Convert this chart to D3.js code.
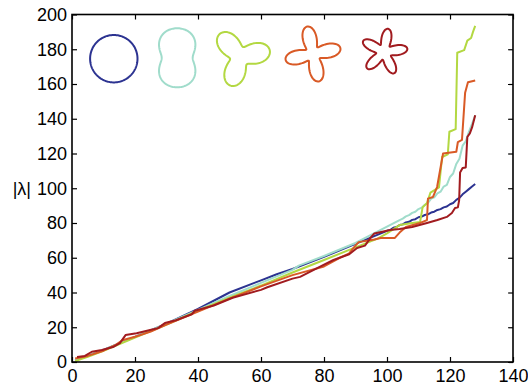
<!DOCTYPE html>
<html>
<head>
<meta charset="utf-8">
<script src="https://cdn.jsdelivr.net/npm/d3@7"></script>
<style>
  html, body { margin: 0; padding: 0; background: #fff; }
  svg text { font-family: "Liberation Sans", Arial, sans-serif; }
</style>
</head>
<body>
<svg id="chart" width="528" height="389"></svg>
<script>
// ---------- data ----------
const xTicks = [0, 20, 40, 60, 80, 100, 120, 140];
const yTicks = [0, 20, 40, 60, 80, 100, 120, 140, 160, 180, 200];
const yLabel = "|λ|";

const seriesNames = ["circle", "peanut", "trefoil", "clover", "star"];

const circleX = [1, 5, 10, 20, 30, 40, 50, 60, 65, 70, 80, 90, 100, 101, 102, 103, 104, 105, 106, 107, 108, 109, 110, 111, 112, 113, 114, 115, 116, 117, 118, 119, 120, 121, 122, 123, 124, 125, 126, 127, 128];
const circleY = [1, 3.5, 7, 14.5, 22, 30.5, 40, 47, 50.5, 53.5, 60.5, 68, 75.5, 76, 77.3, 77.7, 78.8, 79.2, 80.3, 80.7, 81.8, 82.2, 83.3, 83.7, 84.6, 85, 86, 86.5, 87.5, 88, 89, 89.5, 90.8, 91.5, 93.3, 94.5, 96.5, 98, 99.5, 101, 102.4];

const peanutX = [1, 5, 10, 20, 30, 40, 50, 60, 70, 72, 80, 90, 98, 104, 105, 106, 107, 108, 109, 110, 111, 112, 113, 114, 115, 116, 117, 118, 119, 120, 121, 122, 123, 124, 125, 126, 127, 128];
const peanutY = [1, 3.5, 7, 14.5, 22, 30, 38, 45.5, 53, 55.5, 61, 68.5, 76, 81.7, 82.5, 83.8, 84.5, 85.8, 86.5, 88, 88.8, 90.5, 91.5, 94, 94.8, 97, 98, 101, 102, 106.5, 108.5, 114, 117, 124.5, 127, 132.5, 137, 142];

const trefoilX = [1, 5, 10, 20, 30, 40, 50, 60, 70, 80, 90, 97, 100, 104, 108, 110.5, 111.3, 112.7, 113.8, 116.5, 117.5, 119.3, 119.8, 121.8, 122.3, 124.5, 125.5, 126.7, 127.3, 128];
const trefoilY = [0.5, 3, 6.5, 14, 21.5, 29.5, 37, 44, 51.5, 58.7, 66, 71, 74, 78.8, 80, 80.6, 89, 91.5, 97.5, 100.5, 118, 119.5, 132.5, 134, 178, 179.5, 185, 186.5, 190, 193.5];

const cloverX = [1, 5, 10, 14, 16, 20, 25, 30, 40, 50, 60, 70, 80, 85, 88, 89.5, 91, 96, 98, 102.5, 104, 106, 110.5, 112.7, 113, 114.6, 115.9, 117.8, 122, 122.5, 123.8, 124.8, 125.7, 128];
const cloverY = [2, 3.5, 6.5, 10, 12.5, 14.5, 17.5, 21.5, 29, 36.5, 43.5, 50, 55, 60, 62.5, 66, 69, 70.5, 71.4, 71.4, 74.5, 77.7, 80, 81.7, 94, 95, 100.7, 120, 121, 126.6, 127.8, 155, 161, 162];

const starX = [1.6, 4.1, 6.3, 9.5, 13, 15.2, 17, 20.5, 24.8, 27.3, 29.5, 33, 38, 39, 45, 51, 60, 62, 70, 72.4, 79.7, 83, 88, 90.5, 93, 95, 96, 101, 104, 108, 112.7, 116, 119, 120.6, 121.6, 122.5, 122.9, 123.2, 124, 125, 125.5, 126.3, 127, 128];
const starY = [2.9, 3.5, 5.9, 6.9, 8.6, 10.9, 15.5, 16.6, 18.4, 19.5, 22.4, 24, 27.5, 29.5, 32.5, 37, 41.5, 43, 48, 49, 55.8, 58.7, 62, 65.6, 67, 72, 74, 76, 76.5, 77.7, 80, 81.7, 83.5, 85.8, 88.6, 89, 93, 109, 111.6, 112, 129.5, 131.6, 135, 142];

// ---------- layout / style ----------
const W = 528, H = 389;
const plot = { left: 72, right: 513, top: 14.5, bottom: 362 };
const colors = ["#2c3391", "#a0dccb", "#b3d842", "#d95a26", "#a11b1f"];
const fontSize = 18;

// inset shape layout (polar outlines r = R(1 + a cos(k(phi - p)) + b cos(2k(phi - p))))
const shapes = [
  { k: 0, R: 23.7, a: 0,     b: 0,     p: 0,  cx: 113.8, cy: 58.7 },
  { k: 2, R: 23.7, a: 0.296, b: -0.05, p: 90, cx: 177.2, cy: 57.8 },
  { k: 3, R: 20.3, a: 0.5,   b: 0,     p: 12, cx: 240,   cy: 56.7 },
  { k: 4, R: 18,   a: 0.556, b: 0,     p: 12, cx: 313,   cy: 54 },
  { k: 5, R: 15.7, a: 0.5,   b: 0,     p: 8,  cx: 384,   cy: 52 }
];

const svg = d3.select("#chart");
svg.append("rect").attr("width", W).attr("height", H).attr("fill", "#fff");

const x = d3.scaleLinear().domain([0, 140]).range([plot.left, plot.right]);
const y = d3.scaleLinear().domain([0, 200]).range([plot.bottom, plot.top]);

// series
const seriesX = [circleX, peanutX, trefoilX, cloverX, starX];
const seriesY = [circleY, peanutY, trefoilY, cloverY, starY];
const line = d3.line().x(d => x(d[0])).y(d => y(d[1]));
const gLines = svg.append("g");
seriesNames.forEach((name, i) => {
  const pts = seriesX[i].map((v, j) => [v, seriesY[i][j]]);
  gLines.append("path")
    .datum(pts)
    .attr("d", line)
    .attr("fill", "none")
    .attr("stroke", colors[i])
    .attr("stroke-width", 2)
    .attr("stroke-linejoin", "round");
});

// inset shapes
const shapeLine = d3.line().curve(d3.curveLinearClosed);
shapes.forEach((s, i) => {
  const pts = d3.range(0, 360, 2).map(deg => {
    const phi = deg * Math.PI / 180;
    const t = phi - s.p * Math.PI / 180;
    const r = s.R * (1 + s.a * Math.cos(s.k * t) + s.b * Math.cos(2 * s.k * t));
    return [s.cx + r * Math.cos(phi), s.cy - r * Math.sin(phi)];
  });
  svg.append("path")
    .attr("d", shapeLine(pts))
    .attr("fill", "none")
    .attr("stroke", colors[i])
    .attr("stroke-width", 2);
});

// axes
const tick = 5;
const gx = svg.append("g").attr("transform", `translate(0,${plot.bottom})`)
  .call(d3.axisBottom(x).tickValues(xTicks).tickSizeInner(-tick).tickSizeOuter(0).tickPadding(7));
const gy = svg.append("g").attr("transform", `translate(${plot.left},0)`)
  .call(d3.axisLeft(y).tickValues(yTicks).tickSizeInner(-tick).tickSizeOuter(0).tickPadding(5));
const gt = svg.append("g").attr("transform", `translate(0,${plot.top})`)
  .call(d3.axisTop(x).tickValues(xTicks).tickSizeInner(-tick).tickSizeOuter(0).tickFormat(""));
const gr = svg.append("g").attr("transform", `translate(${plot.right},0)`)
  .call(d3.axisRight(y).tickValues(yTicks).tickSizeInner(-tick).tickSizeOuter(0).tickFormat(""));

[gx, gy, gt, gr].forEach(g => {
  g.select(".domain").remove();
  g.selectAll(".tick line").attr("stroke", "#000").attr("stroke-width", 1.2);
  g.selectAll("text").attr("font-size", fontSize).attr("fill", "#000")
    .attr("font-family", "'Liberation Sans', Arial, sans-serif");
});

svg.append("rect")
  .attr("x", plot.left).attr("y", plot.top)
  .attr("width", plot.right - plot.left).attr("height", plot.bottom - plot.top)
  .attr("fill", "none").attr("stroke", "#000").attr("stroke-width", 1.6);

svg.append("text")
  .attr("x", 31).attr("y", y(100))
  .attr("dy", "0.35em")
  .attr("text-anchor", "end")
  .attr("font-size", fontSize)
  .text(yLabel);
</script>
</body>
</html>
